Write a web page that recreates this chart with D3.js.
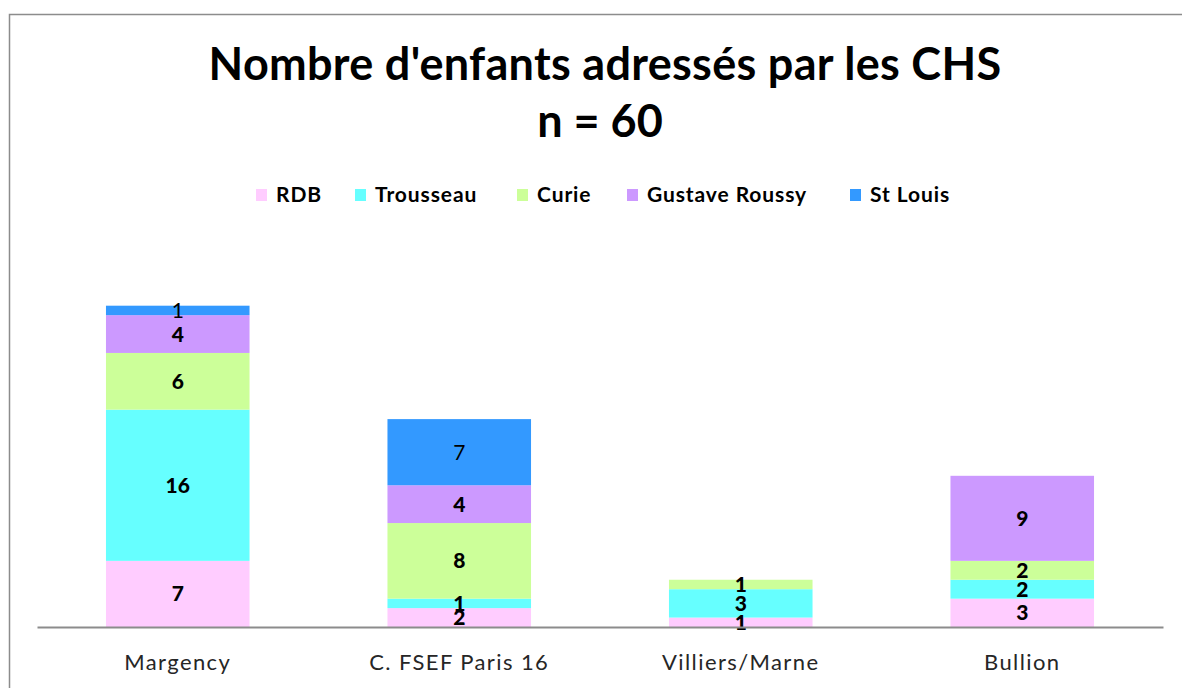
<!DOCTYPE html>
<html>
<head>
<meta charset="utf-8">
<script src="https://cdn.jsdelivr.net/npm/d3@7"></script>
<style>
  body { margin: 0; background: #fff; }
  text { font-family: Lato, "Open Sans", sans-serif; }
</style>
</head>
<body>
<div id="chart"></div>
<script>
// données
const centres = ["Margency", "C. FSEF Paris 16", "Villiers/Marne", "Bullion"];
const hopitaux = ["RDB", "Trousseau", "Curie", "Gustave Roussy", "St Louis"];
const rdb = [7, 2, 1, 3];
const trousseau = [16, 1, 3, 2];
const curie = [6, 8, 1, 2];
const gustaveRoussy = [4, 4, 0, 9];
const stLouis = [1, 7, 0, 0];
const couleurs = ["#FFCCFF", "#66FFFF", "#CCFF99", "#CC99FF", "#3399FF"];

const width = 1182;
const height = 688;

const rows = centres.map((c, i) => ({
  centre: c,
  "RDB": rdb[i],
  "Trousseau": trousseau[i],
  "Curie": curie[i],
  "Gustave Roussy": gustaveRoussy[i],
  "St Louis": stLouis[i]
}));

const svg = d3.select("#chart")
  .append("svg")
  .attr("width", width)
  .attr("height", height);

// cadre
svg.append("rect")
  .attr("x", 9.5).attr("y", 14.5)
  .attr("width", 1200).attr("height", 700)
  .attr("fill", "none")
  .attr("stroke", "#8c8c8c")
  .attr("stroke-width", 1.5);

// titre
svg.append("text")
  .attr("x", 605).attr("y", 80)
  .attr("text-anchor", "middle")
  .attr("font-size", 45).attr("font-weight", "bold")
  .attr("letter-spacing", 0.3)
  .text("Nombre d'enfants adressés par les CHS");
svg.append("text")
  .attr("x", 600).attr("y", 137)
  .attr("text-anchor", "middle")
  .attr("font-size", 45).attr("font-weight", "bold")
  .text("n = 60");

const x = d3.scaleBand()
  .domain(centres)
  .range([37, 1163])
  .paddingInner(0.49)
  .paddingOuter(0.245);

const y = d3.scaleLinear()
  .domain([0, 40])
  .range([627, 249]);

const color = d3.scaleOrdinal().domain(hopitaux).range(couleurs);

const stack = d3.stack().keys(hopitaux)(rows);

const groupes = svg.selectAll("g.serie")
  .data(stack)
  .enter()
  .append("g")
  .attr("class", "serie")
  .attr("fill", d => color(d.key));

groupes.selectAll("rect")
  .data(d => d.filter(p => p[1] - p[0] > 0))
  .enter()
  .append("rect")
  .attr("x", d => x(d.data.centre))
  .attr("y", d => y(d[1]))
  .attr("width", x.bandwidth())
  .attr("height", d => y(d[0]) - y(d[1]));

// étiquettes de valeurs
stack.forEach(s => {
  svg.append("g")
    .selectAll("text")
    .data(s.filter(p => p[1] - p[0] > 0))
    .enter()
    .append("text")
    .attr("x", d => x(d.data.centre) + x.bandwidth() / 2)
    .attr("y", d => (y(d[0]) + y(d[1])) / 2)
    .attr("dy", "0.36em")
    .attr("text-anchor", "middle")
    .attr("font-size", 21)
    .attr("font-weight", s.key === "St Louis" ? "normal" : "900")
    .attr("fill", "#000")
    .text(d => d[1] - d[0]);
});

// axe des x
const axe = svg.append("g")
  .attr("transform", "translate(0,627)")
  .call(d3.axisBottom(x).tickSize(0).tickPadding(27));
axe.select(".domain").attr("stroke", "#8c8c8c").attr("stroke-width", 2);
axe.selectAll("text")
  .attr("font-size", 22)
  .attr("font-family", "Lato, sans-serif")
  .attr("letter-spacing", 1.4)
  .attr("fill", "#262626");

// légende
const legendeX = [256, 355, 517, 627, 850];
const legende = svg.append("g")
  .selectAll("g")
  .data(hopitaux)
  .enter()
  .append("g")
  .attr("transform", (d, i) => `translate(${legendeX[i]},195)`);
legende.append("rect")
  .attr("x", 0).attr("y", -6)
  .attr("width", 11).attr("height", 12)
  .attr("fill", d => color(d));
legende.append("text")
  .attr("x", 20).attr("dy", "0.35em")
  .attr("font-size", 21).attr("font-weight", "bold")
  .attr("letter-spacing", 0.9)
  .text(d => d);
</script>
</body>
</html>
